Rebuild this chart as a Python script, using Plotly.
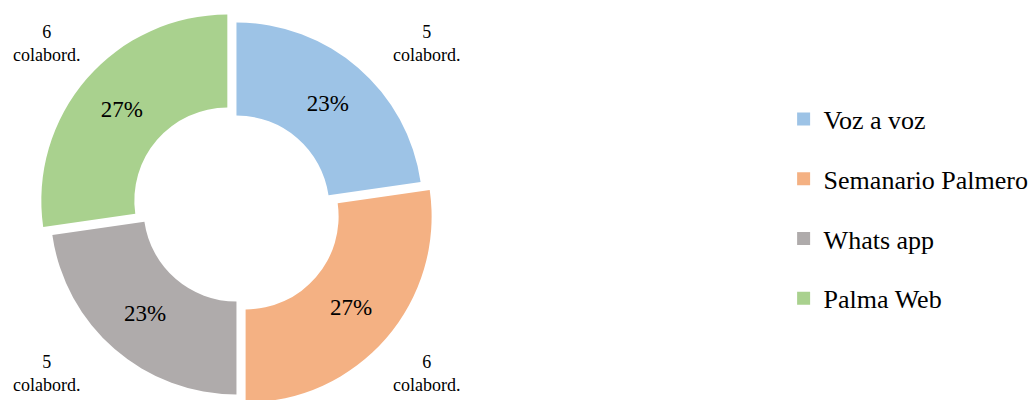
import math
import plotly.graph_objects as go

categories = ["Voz a voz", "Semanario Palmero", "Whats app", "Palma Web"]
values = [5, 6, 5, 6]
outer_labels = ["5<br>colabord.", "6<br>colabord.", "5<br>colabord.", "6<br>colabord."]
colors = ["#9DC3E6", "#F4B183", "#AFABAB", "#A9D18E"]
explode = [0.0, 0.065, 0.0, 0.065]

# figure is a little taller than the 400px window: the bottom of the ring is cropped as in the reference
W, H = 1034, 430
FONT = "Times New Roman, Liberation Serif, DejaVu Serif, serif"
dom_x = [0.0375, 0.4248]
dom_y = [0.0495, 0.9807]
HOLE = 0.5

fig = go.Figure()
fig.add_trace(go.Pie(
    labels=categories, values=values, sort=False, direction="clockwise", rotation=0,
    hole=HOLE, pull=explode,
    marker=dict(colors=colors, line=dict(width=0)),
    texttemplate="%{percent:.0%}", textposition="inside", insidetextorientation="horizontal",
    textfont=dict(family=FONT, size=23, color="black"),
    domain=dict(x=dom_x, y=dom_y), showlegend=False, hoverinfo="label+value+percent",
))

# legend entries
for i, (c, col) in enumerate(zip(categories, colors)):
    fig.add_trace(go.Scatter(x=[None], y=[None], mode="markers", name=c,
                             marker=dict(symbol="square", size=13, color=col),
                             legendgroup="g%d" % i, showlegend=True))

# outer labels: placed off the outer corner of the quadrant holding each slice's mid angle
cx = (dom_x[0] + dom_x[1]) / 2 * W
cy = (1 - (dom_y[0] + dom_y[1]) / 2) * H
R = min((dom_x[1] - dom_x[0]) * W, (dom_y[1] - dom_y[0]) * H) / 2 / (1 + max(explode))
total = sum(values)
cum = 0
for v, lab in zip(values, outer_labels):
    mid = (cum + v / 2) / total * 2 * math.pi
    cum += v
    sx = 1 if math.sin(mid) >= 0 else -1
    sy = 1 if math.cos(mid) >= 0 else -1
    px = cx + sx * 1.02 * R
    py = cy - sy * 0.88 * R
    fig.add_annotation(x=px / W, y=1 - py / H, xref="paper", yref="paper",
                       text=lab, showarrow=False, xanchor="center", yanchor="middle",
                       font=dict(family=FONT, size=18, color="black"))

fig.update_layout(
    width=W, height=H, margin=dict(l=0, r=0, t=0, b=0),
    paper_bgcolor="white", plot_bgcolor="white",
    xaxis=dict(visible=False), yaxis=dict(visible=False),
    legend=dict(x=0.766, y=1 - 209 / H, xanchor="left", yanchor="middle",
                font=dict(family=FONT, size=26, color="black"),
                tracegroupgap=23, traceorder="grouped", itemwidth=30),
    font=dict(family=FONT),
)
fig.write_html(
    "out.html",
    config={"displayModeBar": False},
    post_script="document.body.style.margin='0px';document.body.style.overflow='hidden';"
                "document.documentElement.style.overflow='hidden';",
)
